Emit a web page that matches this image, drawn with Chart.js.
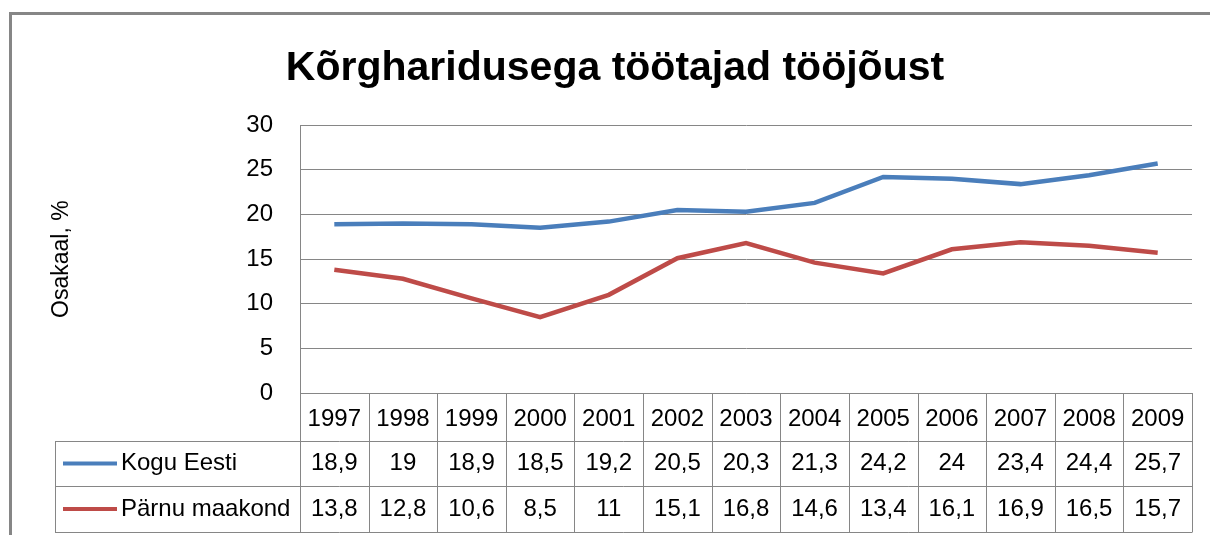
<!DOCTYPE html>
<html>
<head>
<meta charset="utf-8">
<script src="https://cdn.jsdelivr.net/npm/chart.js@4/dist/chart.umd.min.js"></script>
<style>
  html, body { margin: 0; padding: 0; background: #fff; }
  #wrap { width: 1210px; height: 535px; }
</style>
</head>
<body>
<div id="wrap"><canvas id="chart" width="1210" height="535"></canvas></div>
<script>
// data
const years = ["1997", "1998", "1999", "2000", "2001", "2002", "2003", "2004", "2005", "2006", "2007", "2008", "2009"];
const koguEesti = [18.9, 19, 18.9, 18.5, 19.2, 20.5, 20.3, 21.3, 24.2, 24, 23.4, 24.4, 25.7];
const parnuMaakond = [13.8, 12.8, 10.6, 8.5, 11, 15.1, 16.8, 14.6, 13.4, 16.1, 16.9, 16.5, 15.7];
const seriesNames = ["Kogu Eesti", "Pärnu maakond"];
const yTicks = [0, 5, 10, 15, 20, 25, 30];

const GRID = "#868686";
const FONT = "'Liberation Sans', Arial, sans-serif";
const fmt = (v) => String(v).replace(".", ",");

// frame round the chart (left and top edges only show in the picture)
const framePlugin = {
  id: "frame",
  beforeDraw(chart) {
    const ctx = chart.ctx;
    ctx.save();
    ctx.fillStyle = "#fff";
    ctx.fillRect(0, 0, chart.width, chart.height);
    ctx.fillStyle = GRID;
    ctx.fillRect(9, 12, 3, chart.height - 12);
    ctx.fillRect(9, 12, chart.width - 9, 3);
    ctx.restore();
  },
};

// data table under the plot, positioned from the x scale
const tablePlugin = {
  id: "dataTable",
  afterDraw(chart) {
    const ctx = chart.ctx;
    const x = chart.scales.x;
    const area = chart.chartArea;
    const half = (x.getPixelForValue(1) - x.getPixelForValue(0)) / 2;
    const top = area.bottom;
    const rowY = [top, top + 48, top + 93, top + 139];
    const legendLeft = 55;

    ctx.save();
    ctx.strokeStyle = GRID;
    ctx.lineWidth = 1;

    // vertical cell lines
    for (let i = 0; i <= years.length; i++) {
      const px = Math.round(x.getPixelForValue(0) - half + i * 2 * half) + 0.5;
      ctx.beginPath();
      ctx.moveTo(px, rowY[0]);
      ctx.lineTo(px, rowY[3]);
      ctx.stroke();
    }
    ctx.beginPath();
    ctx.moveTo(legendLeft + 0.5, rowY[1]);
    ctx.lineTo(legendLeft + 0.5, rowY[3]);
    ctx.stroke();

    // horizontal lines
    [rowY[1], rowY[2], rowY[3]].forEach((y) => {
      ctx.beginPath();
      ctx.moveTo(legendLeft, Math.round(y) + 0.5);
      ctx.lineTo(area.right + 0.5, Math.round(y) + 0.5);
      ctx.stroke();
    });

    // series rows
    const rows = [koguEesti, parnuMaakond];
    ctx.font = "24px " + FONT;
    ctx.textBaseline = "middle";
    rows.forEach((vals, r) => {
      const cy = (rowY[r + 1] + rowY[r + 2]) / 2;
      const ds = chart.data.datasets[r];
      ctx.strokeStyle = ds.borderColor;
      ctx.lineWidth = 4;
      ctx.beginPath();
      ctx.moveTo(63, cy);
      ctx.lineTo(117, cy);
      ctx.stroke();
      ctx.fillStyle = "#000";
      ctx.textAlign = "left";
      ctx.fillText(seriesNames[r], 121, cy);
      ctx.textAlign = "center";
      vals.forEach((v, i) => {
        ctx.fillText(fmt(v), x.getPixelForValue(i), cy);
      });
    });
    ctx.restore();
  },
};

new Chart(document.getElementById("chart"), {
  type: "line",
  data: {
    labels: years,
    datasets: [
      {
        label: seriesNames[0],
        data: koguEesti,
        borderColor: "#4A7EBB",
        borderWidth: 4.5,
        pointRadius: 0,
        tension: 0,
      },
      {
        label: seriesNames[1],
        data: parnuMaakond,
        borderColor: "#BE4B48",
        borderWidth: 4.5,
        pointRadius: 0,
        tension: 0,
      },
    ],
  },
  options: {
    responsive: false,
    animation: false,
    layout: { padding: { left: 38, right: 18, top: 0, bottom: 0 } },
    plugins: {
      legend: { display: false },
      tooltip: { enabled: false },
      title: {
        display: true,
        text: "Kõrgharidusega töötajad tööjõust",
        color: "#000",
        font: { family: FONT, size: 41, weight: "bold" },
        padding: { top: 44, bottom: 32 },
      },
    },
    scales: {
      x: {
        offset: true,
        grid: { display: false },
        border: { display: true, color: GRID, width: 1 },
        ticks: {
          color: "#000",
          font: { family: FONT, size: 24 },
          padding: 4,
          maxRotation: 0,
          autoSkip: false,
        },
        afterFit(scale) {
          scale.height = 142;
        },
      },
      y: {
        min: 0,
        max: 30,
        afterBuildTicks(scale) {
          scale.ticks = yTicks.map((v) => ({ value: v }));
        },
        grid: { color: GRID, lineWidth: 1, drawTicks: false },
        border: { display: true, color: GRID, width: 1 },
        ticks: {
          color: "#000",
          font: { family: FONT, size: 24 },
          padding: 27,
        },
        title: {
          display: true,
          text: "Osakaal, %",
          color: "#000",
          font: { family: FONT, size: 23 },
          padding: { top: 10, bottom: 0 },
        },
        afterFit(scale) {
          scale.width = 262;
        },
      },
    },
  },
  plugins: [framePlugin, tablePlugin],
});
</script>
</body>
</html>
